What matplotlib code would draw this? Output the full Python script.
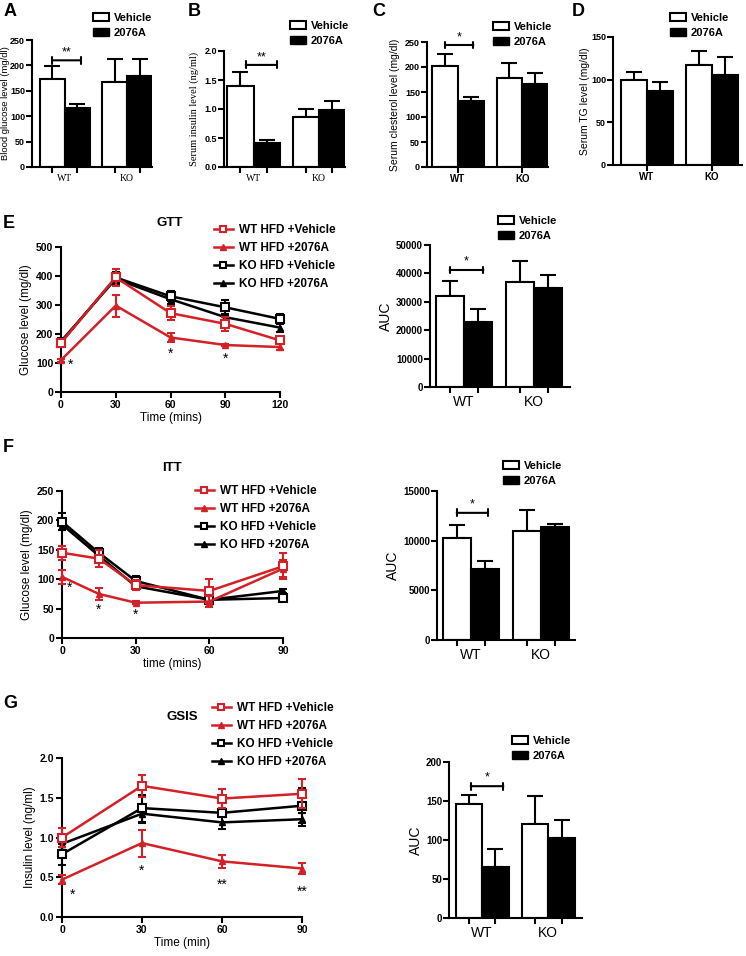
import matplotlib
matplotlib.use('Agg')
import matplotlib.pyplot as plt
from matplotlib.patches import Patch
from matplotlib.lines import Line2D

plt.rcParams['font.family'] = ['Liberation Sans', 'DejaVu Sans']
plt.rcParams['font.weight'] = 'bold'
plt.rcParams['axes.linewidth'] = 1.5

W, H = 746, 956
red = '#d42027'

# ---------------- data ----------------
# bar order: WT Vehicle, WT 2076A, KO Vehicle, KO 2076A
bar_x = [0, 1, 2.5, 3.5]
groups = ['WT', 'KO']
treatments = ['Vehicle', '2076A']

a_mean = [173, 117, 168, 179]
a_err = [25, 8, 44, 33]
b_mean = [1.39, 0.42, 0.87, 0.99]
b_err = [0.25, 0.05, 0.13, 0.14]
c_mean = [203, 133, 179, 166]
c_err = [23, 8, 30, 22]
d_mean = [100, 87, 117, 105]
d_err = [9, 10, 17, 21]
e_auc = [32000, 22800, 37000, 35000]
e_auc_err = [5300, 4500, 7300, 4500]
f_auc = [10300, 7100, 11000, 11400]
f_auc_err = [1300, 900, 2100, 300]
g_auc = [146, 66, 120, 103]
g_auc_err = [12, 22, 36, 23]

series_names = ['WT HFD +Vehicle', 'WT HFD +2076A', 'KO HFD +Vehicle', 'KO HFD +2076A']

# GTT
gtt_t = [0, 30, 60, 90, 120]
gtt_wt_veh = [170, 395, 272, 235, 178]
gtt_wt_veh_err = [10, 30, 25, 25, 12]
gtt_wt_drug = [110, 298, 188, 162, 155]
gtt_wt_drug_err = [5, 38, 17, 5, 10]
gtt_ko_veh = [170, 395, 330, 292, 252]
gtt_ko_veh_err = [12, 20, 17, 25, 17]
gtt_ko_drug = [175, 390, 320, 258, 222]
gtt_ko_drug_err = [10, 20, 15, 10, 15]
gtt_stars = [(5, 95, '*'), (60, 132, '*'), (90, 115, '*')]

# ITT
itt_t = [0, 15, 30, 60, 90]
itt_wt_veh = [145, 135, 90, 80, 122]
itt_wt_veh_err = [12, 15, 8, 20, 22]
itt_wt_drug = [104, 75, 60, 62, 118]
itt_wt_drug_err = [12, 10, 3, 10, 15]
itt_ko_veh = [198, 145, 97, 65, 68]
itt_ko_veh_err = [15, 8, 8, 5, 5]
itt_ko_drug = [193, 140, 88, 65, 80]
itt_ko_drug_err = [10, 8, 5, 5, 3]
itt_stars = [(3, 85, '*'), (15, 48, '*'), (30, 40, '*')]

# GSIS
gsis_t = [0, 30, 60, 90]
gsis_wt_veh = [1.00, 1.65, 1.49, 1.55]
gsis_wt_veh_err = [0.12, 0.14, 0.12, 0.18]
gsis_wt_drug = [0.47, 0.93, 0.70, 0.61]
gsis_wt_drug_err = [0.06, 0.17, 0.08, 0.07]
gsis_ko_veh = [0.79, 1.37, 1.31, 1.40]
gsis_ko_veh_err = [0.13, 0.17, 0.05, 0.22]
gsis_ko_drug = [0.92, 1.30, 1.19, 1.23]
gsis_ko_drug_err = [0.08, 0.12, 0.08, 0.08]
gsis_stars = [(4, 0.28, '*'), (30, 0.58, '*'), (60, 0.40, '**'), (90, 0.32, '**')]

fig = plt.figure(figsize=(W / 100, H / 100), dpi=100)


def box(l, t, r, b):
    # axes placed by pixel edges (left, top, right, bottom)
    return fig.add_axes([l / W, 1 - b / H, (r - l) / W, (b - t) / H])


def legend_at(ax, handles, labels, x, y, fs, spacing, hlen):
    ax.legend(handles, labels, loc='upper left', bbox_to_anchor=(x / W, 1 - y / H),
              bbox_transform=fig.transFigure, frameon=False, borderpad=0,
              borderaxespad=0, labelspacing=spacing,
              handlelength=hlen, handletextpad=0.5, prop={'weight': 'bold', 'size': fs})


def bar_panel(pos, means, errs, ylim, yticks, ylabel, xlim, leg_xy, bracket=None,
              serif_x=False, serif_y=False, group_ticks=False, auc=False, ytick_labels=None,
              ylabel_x=None, ylabel_size=7.5):
    ax = box(*pos)
    colors = ['white', 'black', 'white', 'black']
    ax.bar(bar_x, means, width=1, color=colors, edgecolor='black', linewidth=1.5, zorder=2)
    ax.errorbar(bar_x, means, yerr=[[0] * 4, errs], fmt='none', ecolor='black',
                elinewidth=1.5, capsize=6, capthick=1.5, zorder=1)
    ax.set_xlim(*xlim)
    ax.set_ylim(*ylim)
    ax.spines['top'].set_visible(False)
    ax.spines['right'].set_visible(False)
    ax.tick_params(width=1.5, length=4, labelsize=6.5, pad=1)
    ax.set_yticks(yticks)
    if ytick_labels is not None:
        ax.set_yticklabels(ytick_labels)

    if serif_x:
        xfont = dict(family='Liberation Serif', fontweight='normal', fontsize=7)
        xpad = 5
    elif auc:
        xfont = dict(fontweight='normal', fontsize=10)
        xpad = 6
    else:
        xfont = dict(fontweight='bold', fontsize=7)
        xpad = 1

    if group_ticks:
        ax.set_xticks([0.5, 3.0])
        ax.set_xticklabels(groups, **xfont)
    else:
        ax.set_xticks(bar_x)
        ax.set_xticklabels([''] * 4)
        ax.tick_params(axis='x', which='minor', length=0, pad=xpad)
        ax.set_xticks([0.5, 3.0], minor=True)
        ax.set_xticklabels(groups, minor=True, **xfont)

    if auc:
        ax.tick_params(axis='y', labelsize=7)
        ax.set_ylabel(ylabel, fontsize=10, fontweight='normal', labelpad=2)
    elif serif_y:
        ax.set_ylabel(ylabel, fontsize=ylabel_size, family='Liberation Serif', labelpad=2)
    else:
        ax.set_ylabel(ylabel, fontsize=ylabel_size, labelpad=2)
    if ylabel_x is not None:
        # ylabel_x is the right-hand edge of the rotated label, in pixels
        ax.yaxis.set_label_coords((ylabel_x - pos[0]) / (pos[2] - pos[0]), 0.5)

    if bracket is not None:
        x0, x1, yb, star = bracket
        ax.annotate('', xy=(x0, yb), xytext=(x1, yb),
                    arrowprops=dict(arrowstyle='|-|, widthA=0.25, widthB=0.25', lw=1.5,
                                    shrinkA=0, shrinkB=0, color='black'),
                    annotation_clip=False)
        ax.text((x0 + x1) / 2, yb + (ylim[1] - ylim[0]) * 0.015, star, ha='center',
                va='bottom', fontsize=9, fontweight='normal')
    handles = [Patch(facecolor='white', edgecolor='black', linewidth=1.5),
               Patch(facecolor='black', edgecolor='black')]
    legend_at(ax, handles, treatments, leg_xy[0], leg_xy[1], 8, 0.45, 1.4)
    return ax


def line_panel(pos, t, data, ylim, yticks, xticks, ylabel, xlabel, title, title_xy,
               leg_xy, stars, ytick_labels=None):
    ax = box(*pos)
    (wv, wve), (wd, wde), (kv, kve), (kd, kde) = data
    ax.errorbar(t, kd, yerr=kde, color='black', marker='^', ms=4, lw=1.8, capsize=3,
                capthick=1.5, elinewidth=1.5, clip_on=False, zorder=3)
    ax.errorbar(t, kv, yerr=kve, color='black', marker='s', ms=6, mfc='white', mew=1.5,
                lw=1.8, capsize=3, capthick=1.5, elinewidth=1.5, clip_on=False, zorder=3)
    ax.errorbar(t, wd, yerr=wde, color=red, marker='^', ms=4, lw=1.8, capsize=3,
                capthick=1.5, elinewidth=1.5, clip_on=False, zorder=4)
    ax.errorbar(t, wv, yerr=wve, color=red, marker='s', ms=6, mfc='white', mew=1.5,
                lw=1.8, capsize=3, capthick=1.5, elinewidth=1.5, clip_on=False, zorder=4)
    ax.set_xlim(t[0], t[-1])
    ax.set_ylim(*ylim)
    ax.set_xticks(xticks)
    ax.set_yticks(yticks)
    if ytick_labels is not None:
        ax.set_yticklabels(ytick_labels)
    ax.spines['top'].set_visible(False)
    ax.spines['right'].set_visible(False)
    ax.tick_params(width=1.5, length=4, labelsize=7.5, pad=1.5)
    ax.set_ylabel(ylabel, fontsize=8.5, labelpad=3)
    ax.set_xlabel(xlabel, fontsize=8.5, labelpad=2)
    fig.text(title_xy[0] / W, 1 - title_xy[1] / H, title, fontsize=9.5, ha='center', va='center')
    for sx, sy, s in stars:
        ax.text(sx, sy, s, ha='center', va='center', fontsize=10, fontweight='normal')
    handles = [Line2D([], [], color=red, marker='s', mfc='white', mew=1.5, ms=5, lw=1.8),
               Line2D([], [], color=red, marker='^', ms=4, lw=1.8),
               Line2D([], [], color='black', marker='s', mfc='white', mew=1.5, ms=5, lw=1.8),
               Line2D([], [], color='black', marker='^', ms=4, lw=1.8)]
    legend_at(ax, handles, series_names, leg_xy[0], leg_xy[1], 8.5, 0.5, 1.6)
    return ax


# ---------------- top row ----------------
bar_panel((32, 40, 152, 167), a_mean, a_err, (0, 250), range(0, 251, 50),
          'Blood glucose level (mg/dl)', (-0.8, 4.0), (93, 13), bracket=(0, 1.15, 210, '**'),
          serif_x=True, ylabel_x=10, ylabel_size=6.8)
bar_panel((224, 51, 345, 167), b_mean, b_err, (0, 2), [0, 0.5, 1.0, 1.5, 2.0],
          'Serum insulin level (ng/ml)', (-0.63, 4.0), (290, 21), bracket=(0.2, 1.4, 1.76, '**'),
          serif_x=True, serif_y=True, ytick_labels=['0.0', '0.5', '1.0', '1.5', '2.0'],
          ylabel_x=199)
bar_panel((427, 42, 548, 167), c_mean, c_err, (0, 250), range(0, 251, 50),
          'Serum clesterol level (mg/dl)', (-0.7, 4.0), (493, 22), bracket=(0, 1.1, 244, '*'),
          group_ticks=True, ylabel_x=400)
bar_panel((613, 37, 742, 165), d_mean, d_err, (0, 150), [0, 50, 100, 150],
          'Serum TG level (mg/dl)', (-0.8, 4.15), (670, 13), group_ticks=True, ylabel_x=590)

# ---------------- E ----------------
line_panel((61, 247, 280, 392), gtt_t,
           [(gtt_wt_veh, gtt_wt_veh_err), (gtt_wt_drug, gtt_wt_drug_err),
            (gtt_ko_veh, gtt_ko_veh_err), (gtt_ko_drug, gtt_ko_drug_err)],
           (0, 500), range(0, 501, 100), [0, 30, 60, 90, 120],
           'Glucose level (mg/dl)', 'Time (mins)', 'GTT', (170, 223), (214, 224), gtt_stars)
bar_panel((430, 245, 570, 387), e_auc, e_auc_err, (0, 50000), range(0, 50001, 10000),
          'AUC', (-0.7, 4.28), (498, 216), bracket=(0, 1.2, 41200, '*'), auc=True)

# ---------------- F ----------------
line_panel((62, 491, 283, 638), itt_t,
           [(itt_wt_veh, itt_wt_veh_err), (itt_wt_drug, itt_wt_drug_err),
            (itt_ko_veh, itt_ko_veh_err), (itt_ko_drug, itt_ko_drug_err)],
           (0, 250), range(0, 251, 50), [0, 30, 60, 90],
           'Glucose level (mg/dl)', 'time (mins)', 'ITT', (172, 468), (195, 485), itt_stars)
bar_panel((437, 491, 575, 640), f_auc, f_auc_err, (0, 15000), [0, 5000, 10000, 15000],
          'AUC', (-0.7, 4.2), (503, 461), bracket=(0, 1.1, 12800, '*'), auc=True)

# ---------------- G ----------------
line_panel((62, 758, 302, 917), gsis_t,
           [(gsis_wt_veh, gsis_wt_veh_err), (gsis_wt_drug, gsis_wt_drug_err),
            (gsis_ko_veh, gsis_ko_veh_err), (gsis_ko_drug, gsis_ko_drug_err)],
           (0, 2), [0, 0.5, 1.0, 1.5, 2.0], [0, 30, 60, 90],
           'Insulin level (ng/ml)', 'Time (min)', 'GSIS', (182, 717), (212, 702), gsis_stars,
           ytick_labels=['0.0', '0.5', '1.0', '1.5', '2.0'])
bar_panel((449, 762, 582, 918), g_auc, g_auc_err, (0, 200), range(0, 201, 50),
          'AUC', (-0.75, 4.27), (512, 736), bracket=(0.07, 1.3, 169, '*'), auc=True)

# panel letters
for letter, x, y in [('A', 4, 12), ('B', 188, 12), ('C', 372, 12), ('D', 572, 12),
                     ('E', 3, 224), ('F', 3, 448), ('G', 3, 703)]:
    fig.text(x / W, 1 - y / H, letter, fontsize=13, fontweight='bold', va='center', ha='left')

fig.savefig('out.png', dpi=100)
